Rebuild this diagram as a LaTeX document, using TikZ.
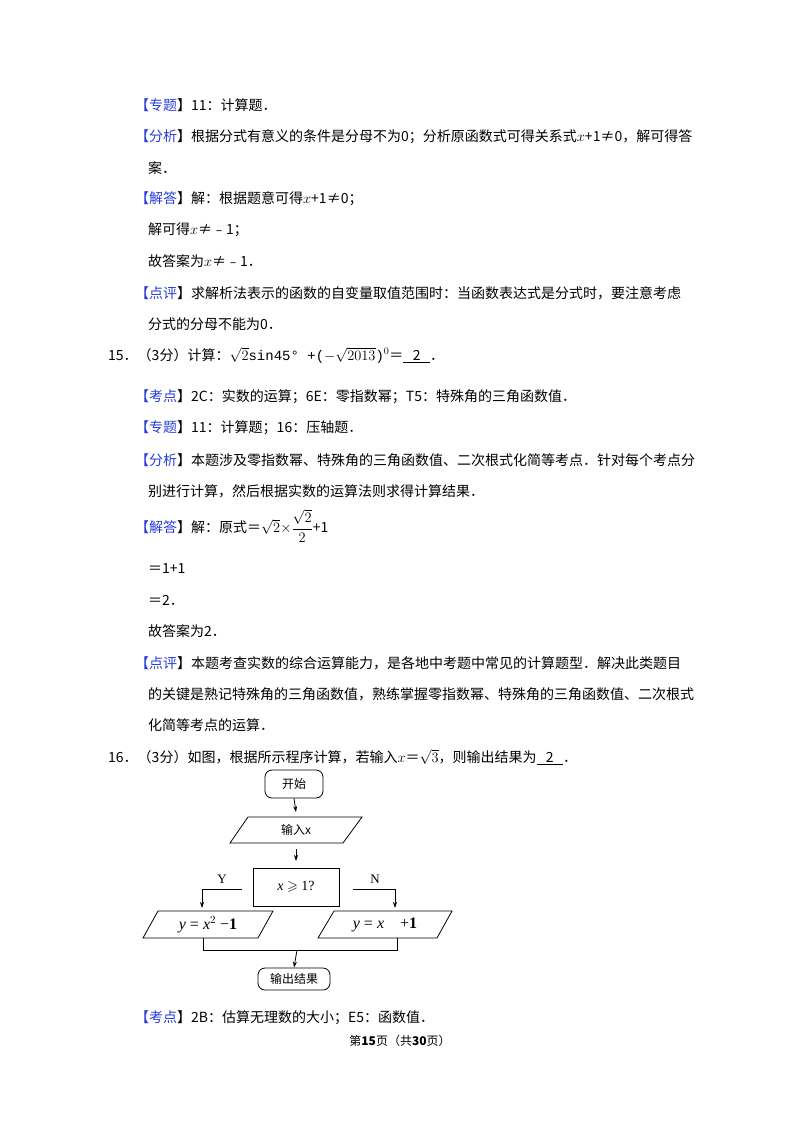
\documentclass[tikz,border=0pt]{standalone}
\usepackage{amsmath,amssymb}
\usepackage{fontspec}
\setmainfont{Noto Sans CJK SC}
\newfontfamily\serifl{Liberation Serif}
\newfontfamily\monof{Liberation Mono}
\usetikzlibrary{arrows.meta}
\definecolor{kb}{RGB}{40,60,220}
\newcommand{\tg}[1]{{\color{kb}【#1}】}
\begin{document}
\begin{tikzpicture}[x=1pt,y=-1pt,
  tl/.style={anchor=west,inner sep=0pt,font=\fontsize{14}{17}\selectfont},
  fb/.style={draw,line width=0.8pt},
  ar/.style={-{Stealth[length=6pt,width=4pt]},line width=0.8pt},
  fl/.style={font=\fontsize{12}{14}\selectfont}]
\useasboundingbox (0,0) rectangle (800,1132);
\node[tl] (l1) at (135,105) {\tg{专题}11：计算题．};
\node[tl] (l2) at (135,137) {\tg{分析}根据分式有意义的条件是分母不为0；分析原函数式可得关系式$x$+1≠0，解可得答};
\node[tl] (l3) at (148,168) {案．};
\node[tl] (l4) at (135,199) {\tg{解答}解：根据题意可得$x$+1≠0；};
\node[tl] (l5) at (148,230) {解可得$x$≠﹣1；};
\node[tl] (l6) at (148,261) {故答案为$x$≠﹣1．};
\node[tl] (l7) at (135,293) {\tg{点评}求解析法表示的函数的自变量取值范围时：当函数表达式是分式时，要注意考虑};
\node[tl] (l8) at (148,324) {分式的分母不能为0．};
\node[tl] (l9) at (108,355) {15．（3分）计算：{\monof$\sqrt{2}$sin45° +($-\sqrt{2013}$)$^{0}$}＝\underline{\ \ \ 2\ \ \ }．};
\node[tl] (l10) at (135,397) {\tg{考点}2C：实数的运算；6E：零指数幂；T5：特殊角的三角函数值．};
\node[tl] (l11) at (135,428) {\tg{专题}11：计算题；16：压轴题．};
\node[tl] (l12) at (135,460) {\tg{分析}本题涉及零指数幂、特殊角的三角函数值、二次根式化简等考点．针对每个考点分};
\node[tl] (l13) at (148,491) {别进行计算，然后根据实数的运算法则求得计算结果．};
\node[tl] (l14) at (135,526) {\tg{解答}解：原式＝$\sqrt{2}{\times}\dfrac{\sqrt{2}}{2}$+1};
\node[tl] (l15) at (148,569) {＝1+1};
\node[tl] (l16) at (148,600) {＝2．};
\node[tl] (l17) at (148,631) {故答案为2．};
\node[tl] (l18) at (135,663) {\tg{点评}本题考查实数的综合运算能力，是各地中考题中常见的计算题型．解决此类题目};
\node[tl] (l19) at (148,694) {的关键是熟记特殊角的三角函数值，熟练掌握零指数幂、特殊角的三角函数值、二次根式};
\node[tl] (l20) at (148,725) {化简等考点的运算．};
\node[tl] (l21) at (108,757) {16．（3分）如图，根据所示程序计算，若输入$x$＝$\sqrt{3}$，则输出结果为\underline{\ \ \ 2\ \ \ }．};
% flowchart
\node[fb,rounded corners=7pt,minimum width=58pt,minimum height=28pt,fl] (st) at (294,784) {开始};
\draw[fb] (248,817) -- (362,817) -- (343,843) -- (230,843) -- cycle;
\node[fl] (in) at (296,830) {输入x};
\draw[ar] (st.south) -- (296,812);
\coordinate (a2s) at (296,849);
\draw[ar] (a2s) -- (296,861);
\node[draw,line width=0.6pt,minimum width=86pt,minimum height=38pt,font=\fontsize{14}{16}\selectfont\serifl] (cond) at (296,887) {\textit{x} $\geqslant$ 1?};
\node[font=\fontsize{13}{15}\selectfont\serifl] (yl) at (222,879) {Y};
\node[font=\fontsize{13}{15}\selectfont\serifl] (nl) at (375,879) {N};
\draw[ar] (242,889) -- (202,889) -- (202,908);
\draw[ar] (353,889) -- (395,889) -- (395,908);
\draw[fb] (158,911) -- (273,911) -- (258,938) -- (143,938) -- cycle;
\node[font=\fontsize{16}{18}\selectfont\serifl] (yf) at (208,925) {\textit{y} = \textit{x}$^{2}$ −\textbf{1}};
\draw[fb] (334,911) -- (452,911) -- (437,938) -- (318,938) -- cycle;
\node[font=\fontsize{16}{18}\selectfont\serifl] (nf) at (385,925) {\textit{y} = \textit{x}\ \ \ \ +\textbf{1}};
\draw[line width=0.8pt] (203,938) -- (203,950) -- (397,950) -- (397,938);
\node[fb,rounded corners=7pt,minimum width=72pt,minimum height=22pt,fl] (out) at (294,979) {输出结果};
\draw[ar] (297,950) -- (out.north);
\node[tl] (l22) at (135,1018) {\tg{考点}2B：估算无理数的大小；E5：函数值．};
\node[anchor=center,inner sep=0pt,font=\fontsize{12}{14}\selectfont] (ft) at (400,1041) {第\textbf{15}页（共\textbf{30}页）};
\end{tikzpicture}
\end{document}
